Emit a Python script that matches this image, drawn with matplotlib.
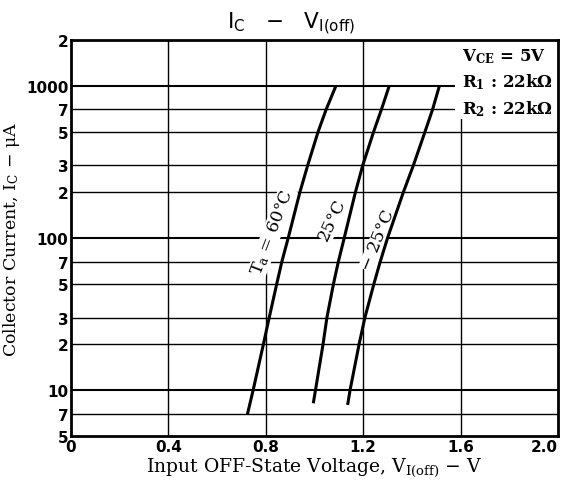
import numpy as np
import matplotlib
matplotlib.use("Agg")
import matplotlib.pyplot as plt
from matplotlib.patches import Rectangle

# --- data (V in volts, Ic in uA) ---
v_60 = [0.724, 0.748, 0.790, 0.814, 0.845, 0.866, 0.892, 0.940, 0.972, 1.015, 1.048, 1.088]
ic_60 = [6.9, 10, 20, 30, 50, 70, 100, 200, 300, 500, 700, 1000]

v_25 = [0.995, 1.004, 1.035, 1.051, 1.078, 1.098, 1.122, 1.168, 1.198, 1.243, 1.275, 1.307]
ic_25 = [8.2, 10, 20, 30, 50, 70, 100, 200, 300, 500, 700, 1000]

v_m25 = [1.136, 1.146, 1.183, 1.207, 1.244, 1.270, 1.300, 1.365, 1.406, 1.454, 1.485, 1.513]
ic_m25 = [8.0, 10, 20, 30, 50, 70, 100, 200, 300, 500, 700, 1000]

x_ticks = [0, 0.4, 0.8, 1.2, 1.6, 2.0]
x_labels = ["0", "0.4", "0.8", "1.2", "1.6", "2.0"]
y_ticks = [5, 7, 10, 20, 30, 50, 70, 100, 200, 300, 500, 700, 1000, 2000]
y_labels = ["5", "7", "10", "2", "3", "5", "7", "100", "2", "3", "5", "7", "1000", "2"]

plt.rcParams["mathtext.default"] = "regular"
SERIF = ["DejaVu Serif"]
SANS = ["DejaVu Sans"]

fig = plt.figure(figsize=(5.64, 4.85), dpi=100)
ax = fig.add_axes([71 / 564, 1 - 437 / 485, (558 - 71) / 564, (437 - 41) / 485])

ax.set_yscale("log")
ax.set_xlim(0, 2.0)
ax.set_ylim(5, 2000)

# grid
for xv in x_ticks[1:-1]:
    ax.axvline(xv, color="black", lw=1.0, zorder=1)
for yv in y_ticks[1:-1]:
    ax.axhline(yv, color="black", lw=1.5 if yv in (10, 100, 1000) else 1.0, zorder=1)

# white patch behind the conditions text (grid is broken there)
ax.add_patch(Rectangle((0.789, 0.80), 0.211, 0.20, transform=ax.transAxes,
                       facecolor="white", edgecolor="none", zorder=2))

# curves
for v, ic in [(v_60, ic_60), (v_25, ic_25), (v_m25, ic_m25)]:
    ax.plot(v, ic, color="black", lw=2.2, solid_capstyle="butt", zorder=5)

# curve labels
lbl = dict(family=SERIF, fontsize=12.5, ha="center", va="center", zorder=4,
           bbox=dict(facecolor="white", edgecolor="none", pad=0.3))
ax.text(0.828, 111, "T$_a$ = 60°C", rotation=69, **lbl)
ax.text(1.074, 133, "25°C", rotation=65, **lbl)
ax.text(1.262, 97, "− 25°C", rotation=68, **lbl)

# conditions
ax.text(0.803, 0.985,
        "V$_{CE}$ = 5V\nR$_1$ : 22kΩ\nR$_2$ : 22kΩ",
        transform=ax.transAxes, ha="left", va="top", family=SERIF,
        fontsize=12, fontweight="bold", linespacing=1.45, zorder=6)

ax.set_xticks(x_ticks)
ax.set_xticklabels(x_labels, family=SANS, fontweight="bold", fontsize=11)
ax.get_xticklabels()[-1].set_horizontalalignment("right")
ax.set_yticks(y_ticks)
ax.set_yticklabels(y_labels, family=SANS, fontweight="bold", fontsize=11)
ax.yaxis.set_minor_locator(matplotlib.ticker.NullLocator())
ax.tick_params(axis="both", length=0, pad=2)

for s in ax.spines.values():
    s.set_linewidth(2.0)

ax.set_xlabel("Input OFF-State Voltage, V$_{I(off)}$ − V", family=SERIF,
              fontsize=13.5, labelpad=1)
ax.set_ylabel("Collector Current, I$_C$ − μA", family=SERIF, fontsize=12.5,
              labelpad=3)

fig.text(291 / 564, 0.952, "I$_C$   −   V$_{I(off)}$", family=SANS,
         fontsize=15.5, ha="center", va="center")

fig.savefig("out.png", dpi=100)
